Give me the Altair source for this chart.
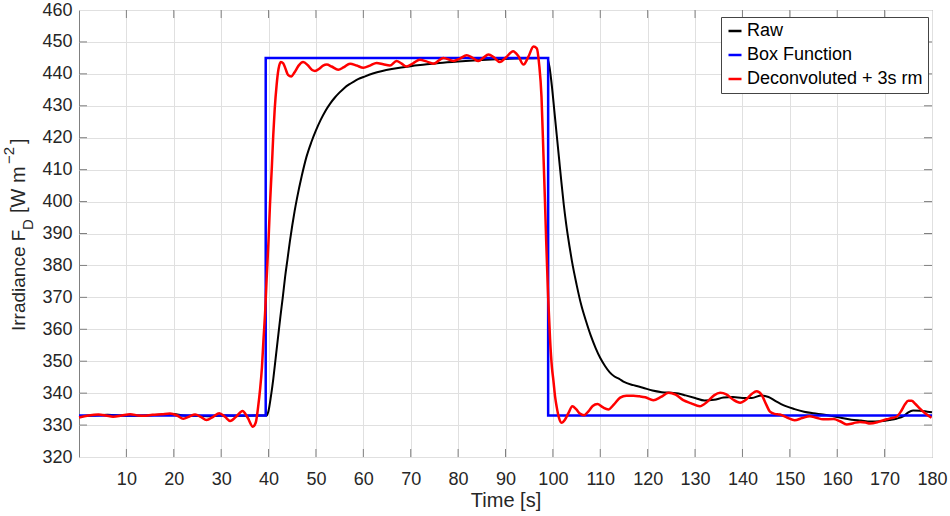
import altair as alt
import pandas as pd

# ---------------- data ----------------
series_names = ["Raw", "Box Function", "Deconvoluted + 3s rm"]
series_colors = ["#000000", "#0000ff", "#ff0000"]

raw_t = [0, 3, 6, 9, 12, 15, 18, 20, 22, 25, 28, 31, 34, 37, 39.6,
         40.0, 40.5, 41.0, 41.5, 42.0, 42.5, 43.0, 43.5, 44.0, 44.5, 45.0, 45.5, 46.0,
         47.0, 48.0, 49.0, 50.0, 51.0, 52.0, 53.0, 54.0, 55.0, 56.0, 57.0, 58.0, 59.0,
         60.0, 62.0, 64.0, 66.0, 68.0, 70.0, 73.0, 76.0, 80.0, 84.0, 88.0, 92.0, 96.0, 98.8,
         99.3, 99.8, 100.3, 100.8, 101.3, 101.8, 102.3, 102.8, 103.5, 104.0, 105.0, 106.0,
         107.0, 108.0, 109.0, 110.0, 111.0, 112.0, 113.0, 114.0, 115.0, 117.0, 119.0, 121.0,
         123.0, 125.0, 126.5, 128.0, 130.0, 132.0, 134.0, 136.0, 138.0, 140.0, 142.0, 144.0,
         145.5, 147.0, 149.0, 151.0, 153.0, 155.0, 157.0, 159.0, 161.0, 163.0, 165.0, 167.0,
         169.0, 171.0, 172.5, 174.0, 175.0, 176.0, 177.5, 179.0, 180.0]
raw_y = [332.8, 333.0, 333.2, 333.0, 332.9, 333.1, 333.3, 333.5, 333.0, 332.9, 332.8, 333.0, 332.9, 333.0, 333.0,
         334.5, 339.0, 344.5, 351.0, 357.5, 364.0, 370.0, 376.5, 382.0, 387.5, 392.5, 397.0, 401.0,
         408.0, 414.0, 418.5, 422.3, 425.6, 428.4, 430.7, 432.6, 434.2, 435.6, 436.7, 437.6, 438.4,
         439.0, 440.1, 440.9, 441.5, 442.0, 442.4, 442.9, 443.4, 443.9, 444.3, 444.6, 444.8, 444.9, 445.0,
         442.0, 436.0, 428.5, 421.0, 413.5, 406.0, 399.0, 393.0, 386.0, 381.5, 374.0, 367.5,
         362.5, 358.0, 354.2, 351.0, 348.5, 346.5, 345.2, 344.5, 343.5, 342.5, 341.7, 340.8,
         340.3, 340.1, 339.9, 339.3, 338.5, 337.7, 337.9, 338.6, 338.8, 338.5, 338.5, 339.3,
         338.8, 337.5, 336.0, 335.0, 334.2, 333.7, 333.3, 332.8, 332.2, 331.7, 331.4, 331.1,
         331.2, 331.6, 332.0, 332.8, 334.0, 334.6, 334.5, 334.2, 334.0]

box_t = [0, 39.4, 39.4, 99.0, 99.0, 180]
box_y = [333, 333, 445, 445, 333, 333]

dec_t = [0, 2, 4.1, 5.7, 7.2, 9, 10.8, 12.5, 13.6, 15.5, 17.5, 19.2, 20.7, 22, 23.3, 24.5,
         25.7, 26.9, 28.3, 29.6, 30.8, 31.9, 33.2, 34.5, 35.6, 36.7, 37.3, 37.8, 38.2, 38.6,
         38.9, 39.3, 39.6, 40.0, 40.3, 40.7, 41.0, 41.3, 41.7, 42.1, 42.6, 43.1, 43.6, 44.1,
         44.8, 45.5, 46.3, 47.3, 48.3, 49.2, 49.8, 50.7, 51.5, 52.3, 53.3, 54.7, 55.8, 57.2,
         58.6, 60.0, 61.4, 62.8, 64.2, 65.6, 67.0, 68.0, 69.1, 70.5, 71.9, 73.3, 74.8, 76.9,
         79.0, 80.4, 81.8, 83.0, 84.3, 85.3, 86.4, 87.6, 88.8, 90.2, 91.6, 92.7, 93.8, 94.9,
         95.9, 96.6, 97.1, 97.6, 98.0, 98.3, 98.6, 99.0, 99.4, 99.8, 100.1, 100.5, 100.8,
         101.3, 101.9, 102.5, 103.3, 104.1, 104.9, 105.7, 106.6, 107.5, 108.4, 109.4, 110.5,
         111.7, 112.9, 114.2, 115.5, 117.0, 118.3, 119.5, 121.2, 122.8, 124.4, 125.9, 127.5,
         129.2, 131.0, 132.5, 134.0, 135.3, 136.6, 138.0, 139.5, 140.8, 142.0, 143.0, 144.0,
         145.0, 145.8, 146.8, 147.9, 149.5, 151.0, 152.6, 154.2, 155.6, 157.0, 159.2, 160.6,
         162.0, 163.4, 164.8, 166.0, 166.9, 168.7, 170.4, 171.5, 172.5, 173.5, 174.3, 175.0,
         175.7, 176.5, 177.4, 178.6, 179.9]
dec_y = [332.4, 333.0, 333.3, 333.0, 332.6, 333.0, 333.4, 333.0, 332.9, 333.2, 333.4, 333.6, 333.0, 332.0, 332.7, 333.3,
         332.6, 331.6, 332.6, 333.7, 332.6, 331.3, 332.7, 334.4, 332.3, 329.5, 330.8, 335.7, 341.0, 348.0,
         356.0, 366.0, 376.0, 388.0, 399.0, 411.0, 421.0, 429.0, 436.5, 441.5, 443.7, 443.3, 441.5, 439.7,
         439.2, 440.5, 442.5, 443.7, 442.7, 441.2, 440.9, 441.6, 442.6, 442.9, 442.3, 441.3, 442.0, 443.2,
         442.6, 441.9, 442.6, 443.4, 443.0, 442.6, 444.0, 443.3, 442.3, 443.3, 444.4, 443.9, 443.2, 445.0,
         444.0, 444.8, 445.8, 445.1, 444.0, 445.0, 446.1, 445.1, 443.7, 445.3, 447.1, 445.6, 442.9, 445.6,
         448.6, 448.0, 443.0, 432.7, 415.0, 401.4, 387.0, 370.1, 357.0, 348.0, 344.1, 338.5, 335.7,
         332.2, 330.7, 331.6, 333.8, 335.9, 335.0, 333.6, 333.1, 334.3, 336.0, 336.6, 335.6,
         334.9, 336.5, 338.6, 339.2, 339.2, 339.0, 338.7, 337.8, 338.8, 340.1, 339.5, 337.8,
         336.8, 335.9, 337.2, 339.3, 340.1, 339.6, 338.0, 337.0, 338.0, 339.8, 340.6, 339.6,
         336.5, 334.2, 333.5, 333.3, 332.3, 331.5, 332.2, 332.8, 332.3, 331.8, 331.9, 331.2,
         330.2, 330.6, 331.0, 330.8, 330.5, 331.0, 331.8, 332.2, 332.6, 334.4, 336.5, 337.6,
         337.6, 336.6, 335.2, 333.6, 332.3]

x_ticks = list(range(10, 190, 10))
y_ticks = list(range(320, 470, 10))
x_inner_ticks = list(range(10, 180, 10))
y_inner_ticks = list(range(330, 460, 10))

# ---------------- layout ----------------
W, H = 853, 447
FONT = "Liberation Sans"
TXT = "#262626"
FRAME = "#808080"
TICK = 8


def frame(t, y, name):
    return pd.DataFrame({"t": t, "y": y, "series": name, "order": list(range(len(t)))})


xscale = alt.Scale(domain=[0, 180], nice=False, zero=False)
yscale = alt.Scale(domain=[320, 460], nice=False, zero=False)

xaxis = alt.Axis(values=x_ticks, grid=True, gridColor="#e0e0e0", gridWidth=1, domain=False,
                 ticks=False, labelFontSize=18, labelFont=FONT, labelColor=TXT, labelPadding=13,
                 labelFlush=False, title="Time [s]", titleFontSize=20, titleFont=FONT,
                 titleFontWeight="normal", titleColor=TXT, titlePadding=2)
yaxis = alt.Axis(values=y_ticks, grid=True, gridColor="#e0e0e0", gridWidth=1, domain=False,
                 ticks=False, labelFontSize=18, labelFont=FONT, labelColor=TXT, labelPadding=7,
                 labelFlush=False, title=None)

legend = alt.Legend(title=None, orient="none", legendX=642, legendY=7, direction="vertical",
                    symbolType="stroke", symbolSize=169, symbolStrokeWidth=2.5,
                    labelFontSize=18, labelFont=FONT, labelColor="black", fillColor="white",
                    strokeColor="#444444", padding=5, rowPadding=6, labelOffset=3,
                    labelLimit=400, offset=0)
color = alt.Color("series:N", scale=alt.Scale(domain=series_names, range=series_colors),
                  legend=legend)


def line(df, width, interp):
    return alt.Chart(df).mark_line(strokeWidth=width, interpolate=interp).encode(
        x=alt.X("t:Q", scale=xscale, axis=xaxis),
        y=alt.Y("y:Q", scale=yscale, axis=yaxis),
        color=color,
        order="order:Q",
    )


raw_layer = line(frame(raw_t, raw_y, series_names[0]), 2, "monotone")
box_layer = line(frame(box_t, box_y, series_names[1]), 2.5, "linear")
dec_layer = line(frame(dec_t, dec_y, series_names[2]), 2.5, "monotone")

xt = pd.DataFrame({"v": x_inner_ticks})
yt = pd.DataFrame({"v": y_inner_ticks})
tick_bottom = alt.Chart(xt).mark_rule(color=FRAME, strokeWidth=1).encode(
    x=alt.X("v:Q", scale=xscale, axis=xaxis), y=alt.value(H), y2=alt.value(H - TICK))
tick_top = alt.Chart(xt).mark_rule(color=FRAME, strokeWidth=1).encode(
    x=alt.X("v:Q", scale=xscale, axis=xaxis), y=alt.value(0), y2=alt.value(TICK))
tick_left = alt.Chart(yt).mark_rule(color=FRAME, strokeWidth=1).encode(
    y=alt.Y("v:Q", scale=yscale, axis=yaxis), x=alt.value(0), x2=alt.value(TICK))
tick_right = alt.Chart(yt).mark_rule(color=FRAME, strokeWidth=1).encode(
    y=alt.Y("v:Q", scale=yscale, axis=yaxis), x=alt.value(W), x2=alt.value(W - TICK))


def ytitle(text, xpos, ypos, size):
    return alt.Chart(alt.Data(values=[{}])).mark_text(
        angle=270, align="left", baseline="alphabetic", font=FONT, fontSize=size, color=TXT
    ).encode(x=alt.value(xpos), y=alt.value(ypos), text=alt.value(text))


title_layers = [
    ytitle("Irradiance F", -54, 321, 19),
    ytitle("D", -46, 220, 15),
    ytitle("[W m", -54, 203, 20),
    ytitle("\u22122", -65, 154, 15),
    ytitle("]", -54, 134, 20),
]

chart = alt.layer(
    raw_layer, box_layer, dec_layer, tick_bottom, tick_top, tick_left, tick_right, *title_layers
).properties(
    width=W, height=H,
    autosize=alt.AutoSizeParams(type="none"),
    padding={"left": 79, "top": 10, "right": 950 - 79 - W, "bottom": 516 - 10 - H},
    background="white",
).configure_view(stroke=FRAME, strokeWidth=1)

chart.save("out.html", embed_options={"renderer": "svg", "actions": False})
